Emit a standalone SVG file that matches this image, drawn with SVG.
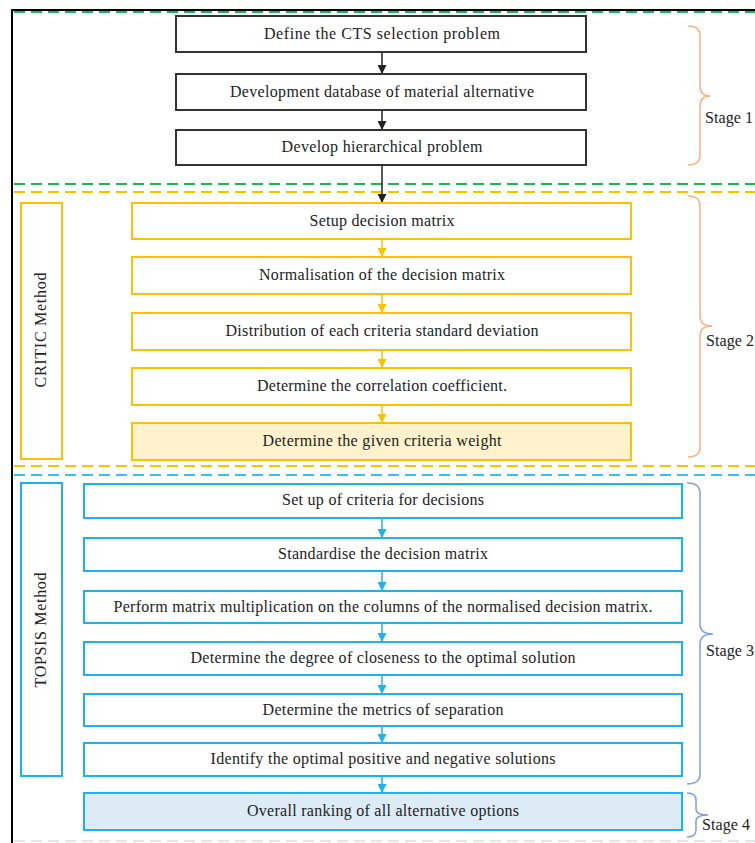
<svg xmlns="http://www.w3.org/2000/svg" width="755" height="843" viewBox="0 0 755 843">
<defs>
<style>
text{font-family:'Liberation Serif','Times New Roman','DejaVu Serif',serif;font-size:16px;fill:#222;text-anchor:middle}
.b1{fill:#fff;stroke:#333;stroke-width:2}
.b2{fill:#fff;stroke:#FFC000;stroke-width:2}
.b2f{fill:#FFF2CC;stroke:#FFC000;stroke-width:2}
.b3{fill:#fff;stroke:#1CB2F0;stroke-width:2}
.b3f{fill:#DDEBF7;stroke:#1CB2F0;stroke-width:2}
.a1{stroke:#222;stroke-width:1.5;fill:none;marker-end:url(#m1)}
.a2{stroke:#FFC000;stroke-width:1.5;fill:none;marker-end:url(#m2)}
.a3{stroke:#1CB2F0;stroke-width:1.5;fill:none;marker-end:url(#m3)}
.dash{fill:none;stroke-width:2;stroke-dasharray:11 6}
.brace{fill:none;stroke-width:1.5}
</style>
<marker id="m1" viewBox="0 0 10 10" refX="10" refY="5" markerWidth="9" markerHeight="9" markerUnits="userSpaceOnUse" orient="auto"><path d="M0,0 L10,5 L0,10 z" fill="#222"/></marker>
<marker id="m2" viewBox="0 0 10 10" refX="10" refY="5" markerWidth="9" markerHeight="9" markerUnits="userSpaceOnUse" orient="auto"><path d="M0,0 L10,5 L0,10 z" fill="#FFC000"/></marker>
<marker id="m3" viewBox="0 0 10 10" refX="10" refY="5" markerWidth="9" markerHeight="9" markerUnits="userSpaceOnUse" orient="auto"><path d="M0,0 L10,5 L0,10 z" fill="#1CB2F0"/></marker>
</defs>
<rect width="755" height="843" fill="#fff"/>
<g id="frame">
<line class="dash" x1="14" y1="12" x2="755" y2="12" stroke="#22B35A"/>
<line x1="12" y1="10" x2="755" y2="10" stroke="#000" stroke-width="2"/>
<line x1="12" y1="9" x2="12" y2="843" stroke="#000" stroke-width="2"/>
<line class="dash" x1="14" y1="184" x2="755" y2="184" stroke="#22B35A"/>
<line class="dash" x1="14" y1="192" x2="755" y2="192" stroke="#FFC000"/>
<line class="dash" x1="14" y1="466" x2="755" y2="466" stroke="#FFC000"/>
<line class="dash" x1="14" y1="475" x2="755" y2="475" stroke="#3FBDF0"/>
<line class="dash" x1="14" y1="841" x2="755" y2="841" stroke="#E6E6E6"/>
</g>
<g id="connectors">
<line class="a1" x1="382" y1="52" x2="382" y2="74"/>
<line class="a1" x1="382" y1="110" x2="382" y2="130"/>
<line class="a1" x1="382" y1="165" x2="382" y2="203"/>
<line class="a2" x1="382" y1="239" x2="382" y2="257"/>
<line class="a2" x1="382" y1="294" x2="382" y2="313"/>
<line class="a2" x1="382" y1="350" x2="382" y2="368"/>
<line class="a2" x1="382" y1="405" x2="382" y2="423"/>
<line class="a3" x1="382" y1="518" x2="382" y2="538"/>
<line class="a3" x1="382" y1="571" x2="382" y2="591"/>
<line class="a3" x1="382" y1="623" x2="382" y2="642"/>
<line class="a3" x1="382" y1="675" x2="382" y2="694"/>
<line class="a3" x1="382" y1="726" x2="382" y2="743"/>
<line class="a3" x1="382" y1="776" x2="382" y2="793"/>
</g>
<g id="s1n1"><rect class="b1" x="176" y="16" width="410" height="36"/><text x="382" y="39" textLength="236" lengthAdjust="spacing">Define the CTS selection problem</text></g>
<g id="s1n2"><rect class="b1" x="176" y="74" width="410" height="36"/><text x="382" y="97" textLength="304" lengthAdjust="spacing">Development database of material alternative</text></g>
<g id="s1n3"><rect class="b1" x="176" y="130" width="410" height="35"/><text x="382" y="152" textLength="201" lengthAdjust="spacing">Develop hierarchical problem</text></g>
<g id="critic"><rect class="b2" x="21" y="203" width="41" height="256"/><text transform="translate(46,330) rotate(-90)" textLength="115" lengthAdjust="spacing">CRITIC Method</text></g>
<g id="s2n1"><rect class="b2" x="132" y="203" width="499" height="36"/><text x="382" y="226" textLength="145" lengthAdjust="spacing">Setup decision matrix</text></g>
<g id="s2n2"><rect class="b2" x="132" y="257" width="499" height="37"/><text x="382" y="280" textLength="246" lengthAdjust="spacing">Normalisation of the decision matrix</text></g>
<g id="s2n3"><rect class="b2" x="132" y="313" width="499" height="37"/><text x="382" y="336" textLength="313" lengthAdjust="spacing">Distribution of each criteria standard deviation</text></g>
<g id="s2n4"><rect class="b2" x="132" y="368" width="499" height="37"/><text x="382" y="391" textLength="250" lengthAdjust="spacing">Determine the correlation coefficient.</text></g>
<g id="s2n5"><rect class="b2f" x="132" y="423" width="499" height="37"/><text x="382" y="446" textLength="239" lengthAdjust="spacing">Determine the given criteria weight</text></g>
<g id="topsis"><rect class="b3" x="21" y="483" width="41" height="293"/><text transform="translate(46,630) rotate(-90)" textLength="115" lengthAdjust="spacing">TOPSIS Method</text></g>
<g id="s3n1"><rect class="b3" x="84" y="484" width="598" height="34"/><text x="383" y="505" textLength="202" lengthAdjust="spacing">Set up of criteria for decisions</text></g>
<g id="s3n2"><rect class="b3" x="84" y="538" width="598" height="33"/><text x="383" y="559" textLength="210" lengthAdjust="spacing">Standardise the decision matrix</text></g>
<g id="s3n3"><rect class="b3" x="84" y="591" width="598" height="32"/><text x="383" y="612" textLength="539" lengthAdjust="spacing">Perform matrix multiplication on the columns of the normalised decision matrix.</text></g>
<g id="s3n4"><rect class="b3" x="84" y="642" width="598" height="33"/><text x="383" y="663" textLength="385" lengthAdjust="spacing">Determine the degree of closeness to the optimal solution</text></g>
<g id="s3n5"><rect class="b3" x="84" y="694" width="598" height="32"/><text x="383" y="715" textLength="241" lengthAdjust="spacing">Determine the metrics of separation</text></g>
<g id="s3n6"><rect class="b3" x="84" y="743" width="598" height="33"/><text x="383" y="764" textLength="345" lengthAdjust="spacing">Identify the optimal positive and negative solutions</text></g>
<g id="s4n1"><rect class="b3f" x="84" y="793" width="598" height="37"/><text x="383" y="816" textLength="272" lengthAdjust="spacing">Overall ranking of all alternative options</text></g>
<g id="stage1"><path class="brace" stroke="#F4B183" d="M688,26 Q700,26 700,36 L700,86 Q700,96 710,96 Q700,96 700,106 L700,155 Q700,165 688,165"/><text x="729" y="123" textLength="48" lengthAdjust="spacing">Stage 1</text></g>
<g id="stage2"><path class="brace" stroke="#F4B183" d="M688,196 Q700,196 700,206 L700,316 Q700,326 712,326 Q700,326 700,336 L700,447 Q700,457 688,457"/><text x="730" y="346" textLength="48" lengthAdjust="spacing">Stage 2</text></g>
<g id="stage3"><path class="brace" stroke="#7F9FD8" d="M687,483 Q700,483 700,493 L700,624 Q700,634 713,634 Q700,634 700,644 L700,774 Q700,784 687,784"/><text x="730" y="656" textLength="48" lengthAdjust="spacing">Stage 3</text></g>
<g id="stage4"><path class="brace" stroke="#7F9FD8" d="M687,793 Q696,793 696,800 L696,809 Q696,815 708,815 Q696,815 696,821 L696,830 Q696,837 687,837"/><text x="726" y="830" textLength="48" lengthAdjust="spacing">Stage 4</text></g>
</svg>
